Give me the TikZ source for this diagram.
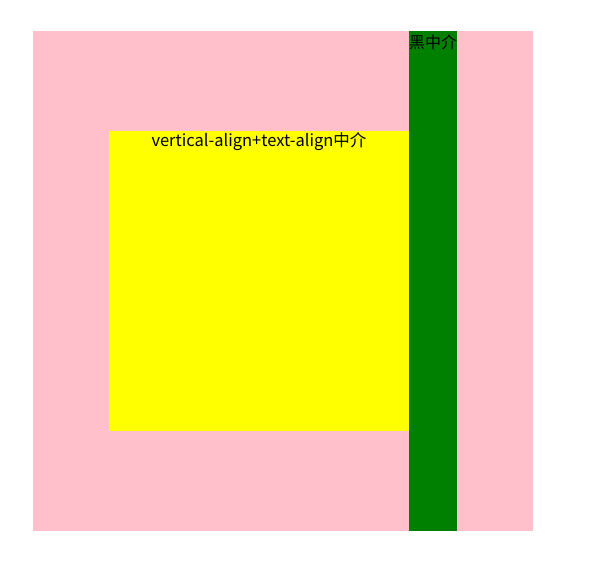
\documentclass[tikz,border=0pt]{standalone}
\usepackage{fontspec}
\setmainfont{Noto Sans CJK SC}
\usepackage{tikz}

\definecolor{pinkbg}{RGB}{255,192,203}
\definecolor{darkgreen}{RGB}{0,128,0}
\definecolor{boxyellow}{RGB}{255,255,0}

\begin{document}
\begin{tikzpicture}[x=1pt,y=-1pt]
\useasboundingbox (0,0) rectangle (603,574);

% outer box
\fill[pinkbg] (33,31) rectangle (533,531);
\fill[boxyellow] (109,131) rectangle (409,431);
\fill[darkgreen] (409,31) rectangle (457,531);

% labels
\node[font=\fontsize{16.5}{19}\selectfont,inner sep=0pt] (boxlabel) at (259,142) {vertical-align+text-align中介};
\node[font=\fontsize{16}{19}\selectfont,inner sep=0pt,anchor=west] (barlabel) at (409,42) {黑中介};
\end{tikzpicture}
\end{document}
